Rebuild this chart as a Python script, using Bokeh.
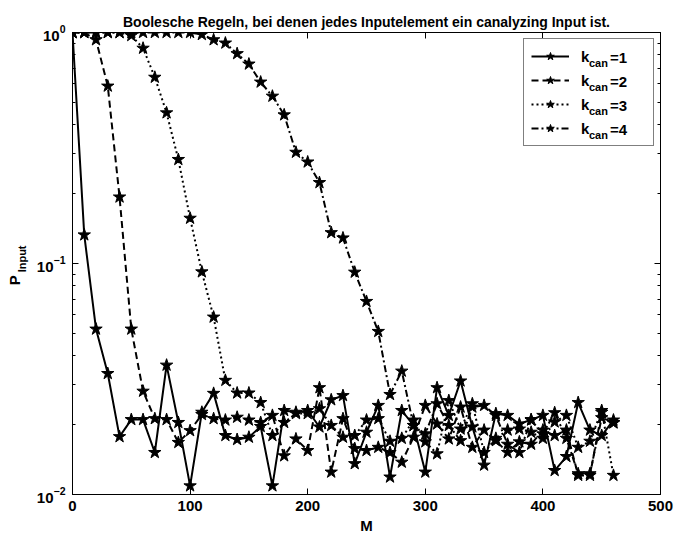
from bokeh.plotting import figure
from bokeh.models import (ColumnDataSource, Legend, LegendItem, LinearAxis,
                          LogAxis, FixedTicker)
from bokeh.embed import file_html
from bokeh.resources import INLINE

# ---- texts ----
title_text = "Boolesche Regeln, bei denen jedes Inputelement ein canalyzing Input ist."
x_label = "M"
y_label_main = "P"
y_label_sub = "Input"
legend_main = "k"
legend_sub = "can"
legend_values = ["=1", "=2", "=3", "=4"]

# ---- ticks ----
x_ticks = [0, 100, 200, 300, 400, 500]
y_ticks = [0.01, 0.1, 1.0]

# ---- data ----
M = list(range(0, 461, 10))

p_kcan1 = [1.0, 0.133, 0.052, 0.0334, 0.0178, 0.0211, 0.0211, 0.0152, 0.0363, 0.0205,
           0.0109, 0.0227, 0.0274, 0.018, 0.0173, 0.0177, 0.0197, 0.0109, 0.0231, 0.0227,
           0.0231, 0.0196, 0.0257, 0.0268, 0.0136, 0.0186, 0.0243, 0.0119, 0.0231, 0.0199,
           0.0125, 0.029, 0.022, 0.031, 0.0196, 0.0134, 0.0224, 0.022, 0.0202, 0.0211,
           0.022, 0.0127, 0.0146, 0.025, 0.019, 0.018, 0.021]

p_kcan2 = [1.0, 1.0, 0.93, 0.586, 0.194, 0.052, 0.028, 0.0213, 0.0211, 0.0168,
           0.0189, 0.0222, 0.0213, 0.021, 0.0216, 0.021, 0.0205, 0.022, 0.0147, 0.0174,
           0.0155, 0.029, 0.0125, 0.0213, 0.0158, 0.0155, 0.016, 0.0152, 0.0138, 0.0177,
           0.0243, 0.0202, 0.0174, 0.0239, 0.016, 0.019, 0.0171, 0.0152, 0.0169, 0.0165,
           0.019, 0.018, 0.019, 0.0121, 0.0121, 0.0227, 0.0204]

p_kcan3 = [1.0, 1.0, 1.0, 1.0, 1.0, 0.97, 0.855, 0.64, 0.449, 0.282,
           0.157, 0.092, 0.0586, 0.0312, 0.0275, 0.0275, 0.025, 0.018, 0.0205, 0.0224,
           0.0224, 0.0235, 0.0199, 0.0177, 0.018, 0.021, 0.0213, 0.017, 0.0175, 0.021,
           0.0169, 0.015, 0.0255, 0.0192, 0.0247, 0.0152, 0.0175, 0.019, 0.0192, 0.0186,
           0.0175, 0.0206, 0.022, 0.016, 0.017, 0.0231, 0.0121]

p_kcan4 = [1.0, 1.0, 1.0, 1.0, 1.0, 1.0, 1.0, 1.0, 1.0, 1.0,
           1.0, 0.98, 0.93, 0.90, 0.81, 0.73, 0.61, 0.53, 0.44, 0.303,
           0.275, 0.224, 0.136, 0.129, 0.0917, 0.0685, 0.0508, 0.0271, 0.0342, 0.0199,
           0.0183, 0.0247, 0.0199, 0.0171, 0.0239, 0.0243, 0.022, 0.0165, 0.0152, 0.021,
           0.0183, 0.0226, 0.0175, 0.0123, 0.0123, 0.0215, 0.0205]

series = [p_kcan1, p_kcan2, p_kcan3, p_kcan4]
dashes = ["solid", "7 4", "2 3", "7 3 2 3"]

FONT = "Liberation Sans"
NBSP = "\u00a0"
W, H = 685, 539
LEFT, RIGHT, TOP, BOTTOM = 72, 25, 32, 45

p = figure(width=W, height=H, x_range=(0, 500), y_range=(0.01, 1.0),
           y_axis_type="log", output_backend="svg", toolbar_location=None,
           min_border_left=LEFT, min_border_right=RIGHT,
           min_border_top=TOP, min_border_bottom=BOTTOM)
p.grid.visible = False
p.outline_line_color = "black"
p.background_fill_color = "white"
p.border_fill_color = "white"

p.title.text = title_text
p.title.align = "center"
p.title.vertical_align = "top"
p.title.text_font = FONT
p.title.text_font_style = "bold"
p.title.text_font_size = "14px"
p.title.text_color = "black"
p.title.standoff = 2

y_minor = [m * 10.0 ** e for e in (-2, -1) for m in range(2, 10)]

# bottom axis
xa = p.xaxis[0]
xa.ticker = FixedTicker(ticks=x_ticks)
xa.major_tick_in = 6
xa.major_tick_out = 0
xa.minor_tick_line_color = None
xa.axis_line_color = "black"
xa.major_label_text_font = FONT
xa.major_label_text_font_style = "bold"
xa.major_label_text_font_size = "15px"
xa.major_label_text_color = "black"
xa.major_label_standoff = 6
xa.axis_label = x_label
xa.axis_label_text_font = FONT
xa.axis_label_text_font_style = "bold"
xa.axis_label_text_font_size = "15px"
xa.axis_label_text_color = "black"
xa.axis_label_standoff = 3

# left axis: 10 with superscript exponent
ya = p.yaxis[0]
ya.ticker = FixedTicker(ticks=y_ticks, minor_ticks=y_minor)
ya.major_tick_in = 6
ya.major_tick_out = 0
ya.minor_tick_in = 3
ya.minor_tick_out = 0
ya.axis_line_color = "black"
ya.major_label_text_font = FONT
ya.major_label_text_font_style = "bold"
ya.major_label_text_font_size = "15px"
ya.major_label_text_color = "black"
ya.major_label_standoff = 7


def label_axis(text, size, standoff):
    """A bare left axis that only carries a (rotated) axis label."""
    ax = LogAxis(ticker=FixedTicker(ticks=y_ticks), axis_line_color=None,
                 major_tick_line_color=None, minor_tick_line_color=None,
                 major_tick_in=0, major_tick_out=0, minor_tick_in=0, minor_tick_out=0,
                 major_label_text_font_size="1px", major_label_text_color=None,
                 major_label_standoff=0, axis_label=text, axis_label_text_font=FONT,
                 axis_label_text_font_style="bold", axis_label_text_font_size=size,
                 axis_label_text_color="black", axis_label_standoff=standoff)
    p.add_layout(ax, "left")
    return ax


# y label: P with subscript "Input" (subscript sits a little nearer the frame)
label_axis(NBSP * 3 + y_label_sub, "11px", 6)
label_axis(y_label_main + NBSP * 8, "15px", -10)

# box ticks on top and right
top_axis = LinearAxis(ticker=FixedTicker(ticks=x_ticks), major_tick_in=6, major_tick_out=0,
                      minor_tick_line_color=None, major_label_text_font_size="1px",
                      major_label_text_color=None, major_label_standoff=8)
p.add_layout(top_axis, "above")
right_axis = LogAxis(ticker=FixedTicker(ticks=y_ticks, minor_ticks=y_minor),
                     major_tick_in=6, major_tick_out=0, minor_tick_in=3, minor_tick_out=0,
                     major_label_text_font_size="1px", major_label_text_color=None,
                     major_label_standoff=0)
p.add_layout(right_axis, "right")

# curves
items = []
for vals, dash in zip(series, dashes):
    src = ColumnDataSource(dict(M=M, P=vals))
    lr = p.line("M", "P", source=src, line_color="black", line_width=2, line_dash=dash)
    sr = p.scatter("M", "P", source=src, marker="star", size=13,
                   fill_color="black", line_color="black")
    items.append(LegendItem(label=legend_main, renderers=[lr, sr]))

legend_style = dict(orientation="vertical", spacing=4, glyph_height=20, label_height=20,
                    margin=0, label_text_font=FONT, label_text_font_style="bold",
                    label_text_color="black")

legend = Legend(items=items, location=(451, 348), padding=7, glyph_width=38,
                label_width=65, label_standoff=12, label_text_font_size="15px",
                border_line_color="black", border_line_width=1,
                background_fill_color="white", background_fill_alpha=1.0, **legend_style)
p.add_layout(legend)

# text-only legend columns for the subscript and the value of k
blank = p.line(x=[], y=[], line_alpha=0)


def text_column(labels, loc, size):
    lg = Legend(items=[LegendItem(label=t, renderers=[blank]) for t in labels],
                location=loc, padding=0, glyph_width=1, label_width=1, label_standoff=0,
                label_text_font_size=size, border_line_color=None,
                background_fill_alpha=0.0, **legend_style)
    p.add_layout(lg)


text_column([legend_sub] * len(legend_values), (516, 349), "11px")
text_column(legend_values, (537, 355), "15px")

open("out.html", "w").write(file_html(p, INLINE))
